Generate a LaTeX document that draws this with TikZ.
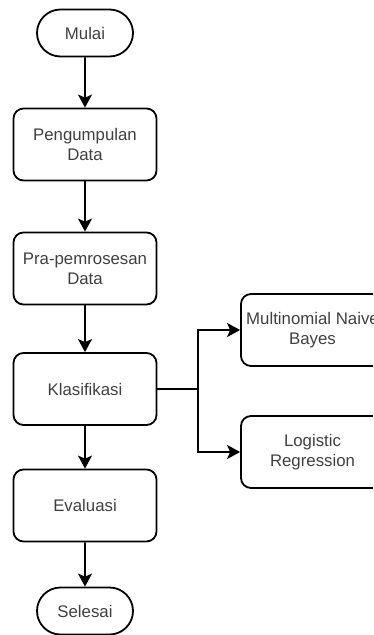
\documentclass[tikz,border=0pt]{standalone}
\usepackage{fontspec}
\setmainfont{Liberation Sans}
\usetikzlibrary{arrows.meta,shapes.misc}
\begin{document}
\begin{tikzpicture}[x=1pt, y=-1pt,
    proses/.style={draw, line width=1.8pt, rounded corners=10pt, minimum width=143pt,
        minimum height=72pt, inner sep=0pt, align=center, text=black!75,
        font=\fontsize{16.8}{20}\selectfont},
    terminal/.style={draw, line width=1.8pt, rounded rectangle, minimum width=96pt,
        minimum height=47pt, inner sep=0pt, text=black!75,
        font=\fontsize{16.8}{20}\selectfont},
    panah/.style={line width=1.8pt, -{Stealth[length=13pt, width=14pt, inset=3pt]}}]
    % 画布
    \useasboundingbox (0,0) rectangle (373,635);
    \clip (0,0) rectangle (373,635);

    % 主流程
    \node[terminal] (mulai) at (85,33) {Mulai};
    \node[proses] (kumpul) at (85,144.5) {Pengumpulan\\Data};
    \node[proses] (pra) at (85,268.5) {Pra-pemrosesan\\Data};
    \node[proses] (klas) at (85,389) {Klasifikasi};
    \node[proses] (eval) at (85,505.5) {Evaluasi};
    \node[terminal] (selesai) at (85,611) {Selesai};

    % 两个模型
    \node[proses] (mnb) at (312.5,330) {Multinomial Naive\\Bayes};
    \node[proses] (lr) at (312.5,452) {Logistic\\Regression};

    % 箭头
    \draw[panah] (mulai) -- (kumpul);
    \draw[panah] (kumpul) -- (pra);
    \draw[panah] (pra) -- (klas);
    \draw[panah] (klas) -- (eval);
    \draw[panah] (eval) -- (selesai);

    % 分支
    \coordinate (cabang) at (198,389);
    \draw[line width=1.8pt] (klas.east) -- (cabang);
    \draw[panah] (cabang) |- (mnb.west);
    \draw[panah] (cabang) |- (lr.west);
\end{tikzpicture}
\end{document}
